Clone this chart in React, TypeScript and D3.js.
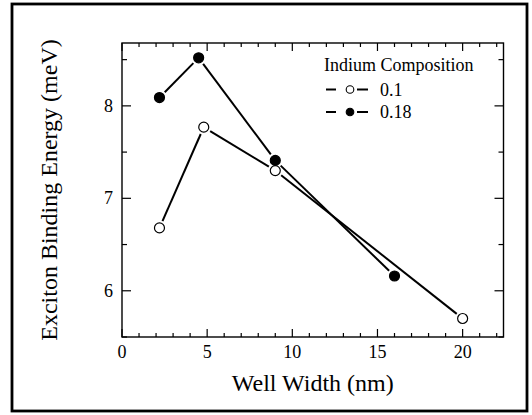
import * as d3 from 'd3';

const wellWidth01 = [2.2, 4.8, 9, 20];
const energy01 = [6.68, 7.77, 7.3, 5.7];
const wellWidth018 = [2.2, 4.5, 9, 16];
const energy018 = [8.09, 8.52, 7.41, 6.16];

const xMajorTicks = [0, 5, 10, 15, 20];
const yMajorTicks = [6, 7, 8];
const legendTitle = 'Indium Composition';
const seriesLabels = ['0.1', '0.18'];

const FONT = "'Liberation Serif', 'Times New Roman', serif";
const W = 532;
const H = 415;
const plot = { left: 122, right: 503.5, top: 43, bottom: 337 };

export default function App() {
  const x = d3.scaleLinear().domain([0, 22.4]).range([plot.left, plot.right]);
  const y = d3.scaleLinear().domain([5.5, 8.68]).range([plot.bottom, plot.top]);

  const xMinor = d3.range(0, 23, 1).filter(v => v % 5 !== 0);
  const yMinor = d3.range(5.5, 8.7, 0.5).filter(v => v % 1 !== 0);

  const series = [
    { label: seriesLabels[0], xs: wellWidth01, ys: energy01, filled: false },
    { label: seriesLabels[1], xs: wellWidth018, ys: energy018, filled: true },
  ];

  const r = 5;
  const gap = r + 2.5;

  // line segments stop short of the markers
  const segments = (xs: number[], ys: number[]) => {
    const out: { x1: number; y1: number; x2: number; y2: number }[] = [];
    for (let i = 0; i < xs.length - 1; i++) {
      const ax = x(xs[i]), ay = y(ys[i]);
      const bx = x(xs[i + 1]), by = y(ys[i + 1]);
      const len = Math.hypot(bx - ax, by - ay);
      const ux = (bx - ax) / len, uy = (by - ay) / len;
      out.push({ x1: ax + ux * gap, y1: ay + uy * gap, x2: bx - ux * gap, y2: by - uy * gap });
    }
    return out;
  };

  const legendX = 326;
  const legendRows = [89.5, 112];

  return (
    <svg width={W} height={H} style={{ position: 'absolute', left: 0, top: 0, background: '#fff' }}>
      <rect x={12} y={4} width={515} height={407} fill="#fff" stroke="#000" strokeWidth={2.8} />

      {/* ticks, inward on all sides */}
      <g stroke="#000" strokeWidth={1.2}>
        {xMajorTicks.map(v => (
          <g key={'xM' + v}>
            <line x1={x(v)} x2={x(v)} y1={plot.bottom} y2={plot.bottom - 8} />
            <line x1={x(v)} x2={x(v)} y1={plot.top} y2={plot.top + 8} />
          </g>
        ))}
        {xMinor.map(v => (
          <g key={'xm' + v}>
            <line x1={x(v)} x2={x(v)} y1={plot.bottom} y2={plot.bottom - 4} />
            <line x1={x(v)} x2={x(v)} y1={plot.top} y2={plot.top + 4} />
          </g>
        ))}
        {yMajorTicks.map(v => (
          <g key={'yM' + v}>
            <line x1={plot.left} x2={plot.left + 9} y1={y(v)} y2={y(v)} />
            <line x1={plot.right} x2={plot.right - 9} y1={y(v)} y2={y(v)} />
          </g>
        ))}
        {yMinor.map(v => (
          <g key={'ym' + v}>
            <line x1={plot.left} x2={plot.left + 5} y1={y(v)} y2={y(v)} />
            <line x1={plot.right} x2={plot.right - 5} y1={y(v)} y2={y(v)} />
          </g>
        ))}
      </g>
      <rect
        x={plot.left}
        y={plot.top}
        width={plot.right - plot.left}
        height={plot.bottom - plot.top}
        fill="none"
        stroke="#000"
        strokeWidth={1.4}
      />

      <g fontFamily={FONT} fontSize={18} fill="#000">
        {xMajorTicks.map(v => (
          <text key={'xl' + v} x={x(v)} y={358} textAnchor="middle">
            {v}
          </text>
        ))}
        {yMajorTicks.map(v => (
          <text key={'yl' + v} x={113} y={y(v) + 6} textAnchor="end">
            {v}
          </text>
        ))}
      </g>

      <text x={(plot.left + plot.right) / 2} y={391} textAnchor="middle" fontFamily={FONT} fontSize={24}>
        Well Width (nm)
      </text>
      <text
        transform={`translate(57,${(plot.top + plot.bottom) / 2}) rotate(-90)`}
        textAnchor="middle"
        fontFamily={FONT}
        fontSize={24}
      >
        Exciton Binding Energy (meV)
      </text>

      {series.map(s => (
        <g key={s.label}>
          {segments(s.xs, s.ys).map((seg, i) => (
            <line key={i} {...seg} stroke="#000" strokeWidth={2} />
          ))}
          {s.xs.map((v, i) => (
            <circle
              key={i}
              cx={x(v)}
              cy={y(s.ys[i])}
              r={r}
              fill={s.filled ? '#000' : '#fff'}
              stroke="#000"
              strokeWidth={1.2}
            />
          ))}
        </g>
      ))}

      <g fontFamily={FONT} fontSize={18}>
        <text x={legendX - 2} y={71}>
          {legendTitle}
        </text>
        {series.map((s, i) => (
          <g key={'lg' + s.label}>
            <line x1={legendX} x2={legendX + 10} y1={legendRows[i]} y2={legendRows[i]} stroke="#000" strokeWidth={2} />
            <circle
              cx={legendX + 24}
              cy={legendRows[i]}
              r={3.8}
              fill={s.filled ? '#000' : '#fff'}
              stroke="#000"
              strokeWidth={1.1}
            />
            <line x1={legendX + 31} x2={legendX + 42} y1={legendRows[i]} y2={legendRows[i]} stroke="#000" strokeWidth={2} />
            <text x={legendX + 54} y={legendRows[i] + 6}>
              {s.label}
            </text>
          </g>
        ))}
      </g>
    </svg>
  );
}
